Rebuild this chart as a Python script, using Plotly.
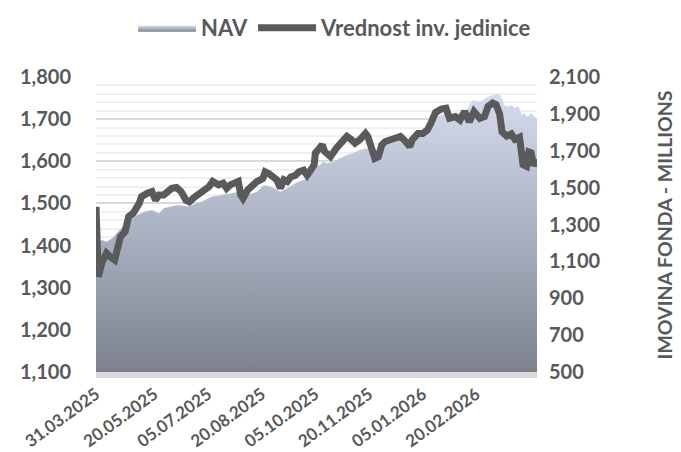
import plotly.graph_objects as go

# Vrednost inv. jedinice (left axis)
unit_dates = [
    "2025-03-31", "2025-04-02", "2025-04-05", "2025-04-09", "2025-04-12", "2025-04-16",
    "2025-04-21", "2025-04-25", "2025-04-28", "2025-05-02", "2025-05-07", "2025-05-09",
    "2025-05-14", "2025-05-18", "2025-05-21", "2025-05-24", "2025-05-28", "2025-06-01",
    "2025-06-04", "2025-06-08", "2025-06-12", "2025-06-16", "2025-06-19", "2025-06-24",
    "2025-06-28", "2025-07-02", "2025-07-06", "2025-07-09", "2025-07-14", "2025-07-18",
    "2025-07-21", "2025-07-24", "2025-07-28", "2025-07-31", "2025-08-02", "2025-08-04",
    "2025-08-08", "2025-08-11", "2025-08-16", "2025-08-21", "2025-08-23", "2025-08-26",
    "2025-08-31", "2025-09-02", "2025-09-05", "2025-09-08", "2025-09-11", "2025-09-14",
    "2025-09-18", "2025-09-21", "2025-09-25", "2025-09-28", "2025-10-01", "2025-10-04",
    "2025-10-05", "2025-10-08", "2025-10-11", "2025-10-13", "2025-10-16", "2025-10-18",
    "2025-10-23", "2025-10-28", "2025-11-01", "2025-11-05", "2025-11-08", "2025-11-12",
    "2025-11-17", "2025-11-19", "2025-11-22", "2025-11-25", "2025-11-28", "2025-12-01",
    "2025-12-04", "2025-12-08", "2025-12-12", "2025-12-17", "2025-12-20", "2025-12-25",
    "2025-12-27", "2026-01-01", "2026-01-05", "2026-01-09", "2026-01-12", "2026-01-16",
    "2026-01-21", "2026-01-25", "2026-01-28", "2026-02-02", "2026-02-06", "2026-02-10",
    "2026-02-14", "2026-02-18", "2026-02-23", "2026-02-27", "2026-03-02", "2026-03-06",
    "2026-03-09", "2026-03-12", "2026-03-14", "2026-03-18", "2026-03-22", "2026-03-25",
    "2026-03-29", "2026-03-31", "2026-04-01", "2026-04-04", "2026-04-06", "2026-04-08",
    "2026-04-10", "2026-04-13",
]
unit_values = [
    1492, 1326, 1359, 1382, 1374, 1366,
    1421, 1433, 1469, 1477, 1500, 1516,
    1524, 1528, 1508, 1520, 1520, 1532,
    1536, 1538, 1528, 1508, 1504, 1516,
    1524, 1532, 1540, 1552, 1544, 1548,
    1536, 1544, 1549, 1552, 1520, 1512,
    1532, 1540, 1552, 1559, 1575, 1571,
    1556, 1556, 1536, 1556, 1552, 1563,
    1567, 1575, 1579, 1567, 1579, 1591,
    1619, 1627, 1639, 1623, 1615, 1611,
    1631, 1647, 1659, 1651, 1643, 1651,
    1666, 1659, 1631, 1607, 1611, 1639,
    1647, 1651, 1651, 1659, 1651, 1635,
    1651, 1666, 1666, 1674, 1690, 1716,
    1724, 1726, 1702, 1706, 1698, 1718,
    1694, 1718, 1702, 1706, 1730, 1738,
    1734, 1712, 1670, 1660, 1665, 1652,
    1657, 1623, 1592, 1588, 1622, 1620,
    1590, 1605,
]

# NAV (right axis, millions)
nav_dates = [
    "2025-03-31", "2025-04-05", "2025-04-09", "2025-04-14", "2025-04-21", "2025-04-28",
    "2025-05-07", "2025-05-12", "2025-05-18", "2025-05-24", "2025-05-28", "2025-06-04",
    "2025-06-09", "2025-06-18", "2025-06-29", "2025-07-08", "2025-07-16", "2025-07-25",
    "2025-08-01", "2025-08-08", "2025-08-16", "2025-08-22", "2025-08-28", "2025-09-05",
    "2025-09-11", "2025-09-20", "2025-09-28", "2025-10-04", "2025-10-07", "2025-10-12",
    "2025-10-15", "2025-10-20", "2025-10-26", "2025-11-01", "2025-11-06", "2025-11-12",
    "2025-11-18", "2025-11-23", "2025-11-29", "2025-12-05", "2025-12-13", "2025-12-17",
    "2025-12-24", "2026-01-05", "2026-01-11", "2026-01-16", "2026-01-25", "2026-02-03",
    "2026-02-11", "2026-02-17", "2026-02-23", "2026-02-26", "2026-03-02", "2026-03-06",
    "2026-03-08", "2026-03-11", "2026-03-14", "2026-03-16", "2026-03-19", "2026-03-22",
    "2026-03-25", "2026-03-28", "2026-03-31", "2026-04-02", "2026-04-05", "2026-04-08",
    "2026-04-11", "2026-04-13",
]
nav_values = [
    1180, 1216, 1207, 1225, 1275, 1330,
    1355, 1370, 1379, 1360, 1388, 1397,
    1406, 1397, 1424, 1451, 1460, 1469,
    1478, 1460, 1478, 1514, 1505, 1478,
    1496, 1532, 1550, 1586, 1614, 1641,
    1632, 1641, 1659, 1677, 1686, 1704,
    1713, 1700, 1704, 1731, 1749, 1758,
    1767, 1776, 1813, 1885, 1903, 1900,
    1915, 1975, 1966, 1975, 1993, 2002,
    2006, 2011, 1984, 1948, 1939, 1948,
    1930, 1944, 1894, 1903, 1885, 1903,
    1885, 1876,
]

x_ticks = ["2025-03-31", "2025-05-20", "2025-07-05", "2025-08-20",
           "2025-10-05", "2025-11-20", "2026-01-05", "2026-02-20"]

txt = "#595959"
fnt = dict(family="Lato, Open Sans, sans-serif", color=txt, size=20, weight="bold")

fig = go.Figure()

fig.add_trace(go.Scatter(
    x=nav_dates, y=nav_values, name="NAV", yaxis="y",
    mode="lines", line=dict(width=0), fill="tozeroy",
    fillgradient=dict(type="vertical", start=500, stop=2000,
                      colorscale=[[0, "#7c818d"], [0.5, "#a9b1c1"], [1, "#d3dbec"]]),
))
fig.add_trace(go.Scatter(
    x=unit_dates, y=unit_values, name="Vrednost inv. jedinice", yaxis="y2",
    mode="lines", line=dict(color="#5a5a5a", width=7),
))

# page has an 8px body margin, so the figure is a bit smaller than the window
fig.update_layout(
    width=673, height=444,
    margin=dict(l=88, r=144, t=69, b=80, autoexpand=False),
    paper_bgcolor="white", plot_bgcolor="white",
    font=fnt,
    showlegend=True,
    legend=dict(orientation="h", xref="container", x=0.486, xanchor="center",
                yref="container", y=0.955, yanchor="middle",
                font=dict(size=22), itemwidth=58, traceorder="normal"),
    xaxis=dict(type="date", range=["2025-03-31", "2026-04-13"], automargin=False,
               tickvals=x_ticks, tickformat="%d.%m.%Y", tickangle=-36,
               tickfont=dict(size=17), showgrid=False,
               showline=True, linecolor="#d9d9d9", linewidth=6, ticks=""),
    yaxis=dict(side="right", range=[500, 2100], tick0=500, dtick=200, tickformat=",",
               automargin=False, showgrid=False, zeroline=False, ticks="",
               ticklabelstandoff=11),
    yaxis2=dict(side="left", overlaying="y", range=[1100, 1800], dtick=100,
                tickformat=",", automargin=False,
                showgrid=True, gridcolor="#d9d9d9", gridwidth=1.5,
                minor=dict(dtick=20, showgrid=True, gridcolor="#f0f0f0", gridwidth=1.5),
                zeroline=False, ticks="", ticklabelstandoff=24),
    annotations=[dict(text="IMOVINA FONDA - MILLIONS", textangle=-90,
                      xref="paper", yref="paper", x=1.29, y=0.5, xanchor="center",
                      showarrow=False, font=dict(size=19.5))],
)

fig.write_html("out.html")
